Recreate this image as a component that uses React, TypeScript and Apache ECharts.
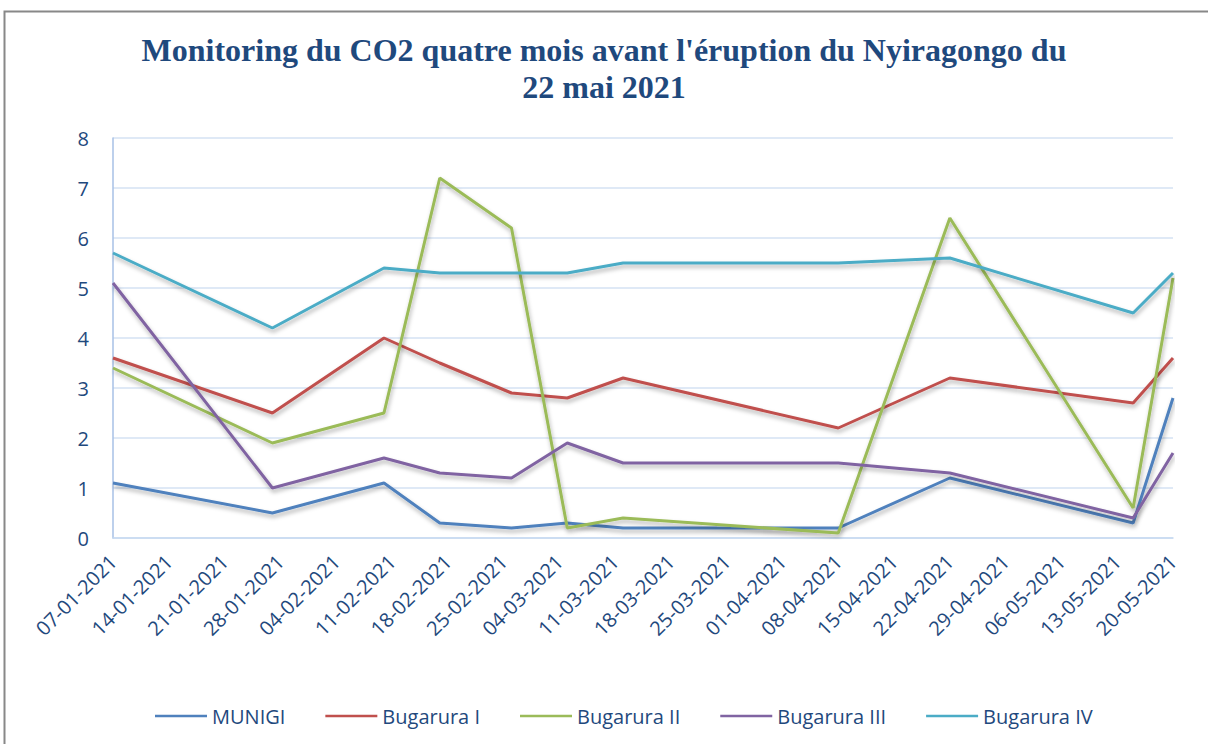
import React, { useEffect, useRef } from "react";
import * as echarts from "echarts";

const startDate = "2021-01-07";
const endDate = "2021-05-20";
const dates = [
  "2021-01-07", "2021-01-27", "2021-02-10", "2021-02-17", "2021-02-26", "2021-03-05",
  "2021-03-12", "2021-04-08", "2021-04-22", "2021-05-15", "2021-05-20",
];
const munigi = [1.1, 0.5, 1.1, 0.3, 0.2, 0.3, 0.2, 0.2, 1.2, 0.3, 2.8];
const bugaruraI = [3.6, 2.5, 4.0, 3.5, 2.9, 2.8, 3.2, 2.2, 3.2, 2.7, 3.6];
const bugaruraII = [3.4, 1.9, 2.5, 7.2, 6.2, 0.2, 0.4, 0.1, 6.4, 0.6, 5.2];
const bugaruraIII = [5.1, 1.0, 1.6, 1.3, 1.2, 1.9, 1.5, 1.5, 1.3, 0.4, 1.7];
const bugaruraIV = [5.7, 4.2, 5.4, 5.3, 5.3, 5.3, 5.5, 5.5, 5.6, 4.5, 5.3];
const seriesNames = ["MUNIGI", "Bugarura I", "Bugarura II", "Bugarura III", "Bugarura IV"];
const seriesColors = ["#4F81BD", "#C0504D", "#9BBB59", "#8064A2", "#4BACC6"];
const titleText = "Monitoring du CO2 quatre mois avant l'éruption du Nyiragongo du\n22 mai 2021";

const DAY = 86400000;
const toUTC = (s: string) => {
  const [y, m, d] = s.split("-").map(Number);
  return Date.UTC(y, m - 1, d);
};
const dayOffset = (s: string) => Math.round((toUTC(s) - toUTC(startDate)) / DAY);
const fmt = (v: number) => {
  const d = new Date(toUTC(startDate) + v * DAY);
  const dd = String(d.getUTCDate()).padStart(2, "0");
  const mm = String(d.getUTCMonth() + 1).padStart(2, "0");
  return `${dd}-${mm}-${d.getUTCFullYear()}`;
};

export default function App() {
  const ref = useRef<HTMLDivElement>(null);
  useEffect(() => {
    document.body.style.margin = "0";
    const chart = echarts.init(ref.current!, null, { renderer: "svg" });
    const all = [munigi, bugaruraI, bugaruraII, bugaruraIII, bugaruraIV];
    const textColor = "#1F497D";
    chart.setOption({
      animation: false,
      backgroundColor: "#ffffff",
      title: {
        text: titleText,
        left: "center",
        top: 26,
        textStyle: {
          fontFamily: "Liberation Serif",
          fontWeight: "bold",
          fontSize: 32,
          lineHeight: 37,
          color: textColor,
        },
      },
      graphic: [
        {
          type: "rect",
          shape: { x: 4.5, y: 11.5, width: 1260, height: 800 },
          style: { fill: "none", stroke: "#888888", lineWidth: 2 },
          silent: true,
        },
      ],
      legend: {
        top: 701,
        left: 150,
        icon: "rect",
        itemWidth: 52,
        itemHeight: 2.5,
        itemGap: 40,
        textStyle: { fontFamily: "Open Sans", fontSize: 20, color: textColor },
        data: seriesNames,
      },
      grid: { left: 113, right: 35, top: 138, bottom: 206 },
      xAxis: {
        type: "value",
        min: 0,
        max: dayOffset(endDate),
        interval: 7,
        axisLine: { show: true, lineStyle: { color: "#C6D9F1", width: 1.5 } },
        axisTick: { show: false },
        splitLine: { show: false },
        axisLabel: {
          rotate: 45,
          formatter: (v: number) => fmt(v),
          fontFamily: "Open Sans",
          fontSize: 20,
          color: textColor,
          margin: 20,
          showMaxLabel: true,
          showMinLabel: true,
        },
      },
      yAxis: {
        type: "value",
        min: 0,
        max: 8,
        interval: 1,
        axisLine: { show: true, lineStyle: { color: "#A7C1E6", width: 1.5 } },
        axisTick: { show: false },
        splitLine: { lineStyle: { color: "#D5E2F3", width: 1.5 } },
        axisLabel: {
          fontFamily: "Open Sans",
          fontSize: 20,
          color: textColor,
          margin: 24,
        },
      },
      series: all.map((vals, i) => ({
        name: seriesNames[i],
        type: "line",
        symbol: "none",
        data: dates.map((d, j) => [dayOffset(d), vals[j]]),
        lineStyle: {
          color: seriesColors[i],
          width: 3,
          shadowColor: "rgba(0,0,0,0.3)",
          shadowBlur: 4,
          shadowOffsetX: 1,
          shadowOffsetY: 3,
        },
        itemStyle: { color: seriesColors[i] },
      })),
    });
    return () => chart.dispose();
  }, []);
  return <div ref={ref} style={{ width: 1208, height: 744 }} />;
}
